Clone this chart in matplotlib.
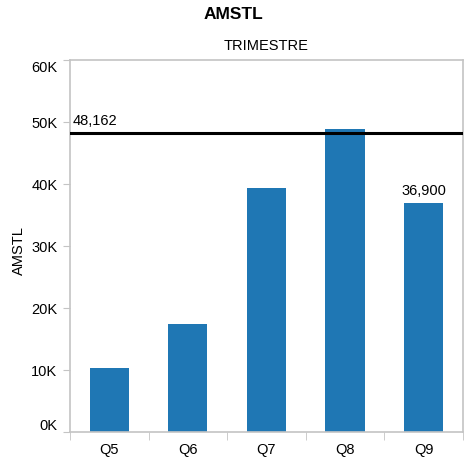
import matplotlib.pyplot as plt
import numpy as np
from matplotlib.ticker import FuncFormatter

plt.rcParams['font.family'] = ['Liberation Sans', 'DejaVu Sans']

trimestres = ['Q5', 'Q6', 'Q7', 'Q8', 'Q9']
valores = [10350, 17400, 39400, 48900, 36900]
referencia = 48162
etiqueta_q9 = '36,900'
etiqueta_ref = '48,162'

fig = plt.figure(figsize=(4.66, 4.60), dpi=100)
ax = fig.add_axes([0.150, 0.0587, 0.8436, 0.8087])

x = np.arange(len(trimestres))
ax.bar(x, valores, width=0.5, color='#1f77b4', zorder=2)
ax.axhline(referencia, color='black', lw=2.2, zorder=3)
ax.text(-0.46, referencia + 1000, etiqueta_ref, fontsize=10.5, ha='left', va='bottom')
ax.text(x[-1], valores[-1] + 1000, etiqueta_q9, fontsize=10.5, ha='center', va='bottom')

ax.set_xlim(-0.5, len(trimestres) - 0.5)
ax.set_ylim(0, 60000)
ax.set_yticks(range(0, 60001, 10000))
ax.yaxis.set_major_formatter(FuncFormatter(lambda v, p: f'{int(v/1000)}K'))
ax.set_xticks(x)
ax.set_xticklabels(trimestres)
ax.set_xticks(np.arange(-0.5, len(trimestres)), minor=True)

gris = '#c4c4c4'
for s in ax.spines.values():
    s.set_color(gris)
    s.set_linewidth(1.2)
ax.tick_params(axis='y', colors=gris, labelcolor='black', length=5, labelsize=10.5, pad=4)
ax.tick_params(axis='x', which='major', length=0, labelsize=10.5, pad=7)
ax.tick_params(axis='x', which='minor', colors=gris, length=6)

# primera y ultima etiqueta dentro del eje
etiquetas_y = ax.get_yticklabels()
etiquetas_y[0].set_va('bottom')
etiquetas_y[-1].set_va('top')

ax.set_ylabel('AMSTL', fontsize=10.5)
ax.yaxis.set_label_coords(-0.112, 0.49)
ax.xaxis.set_label_position('top')
ax.set_xlabel('TRIMESTRE', fontsize=10.5, labelpad=8)
fig.suptitle('AMSTL', fontsize=12.5, fontweight='bold', y=0.985)

fig.savefig('out.png', dpi=100)
